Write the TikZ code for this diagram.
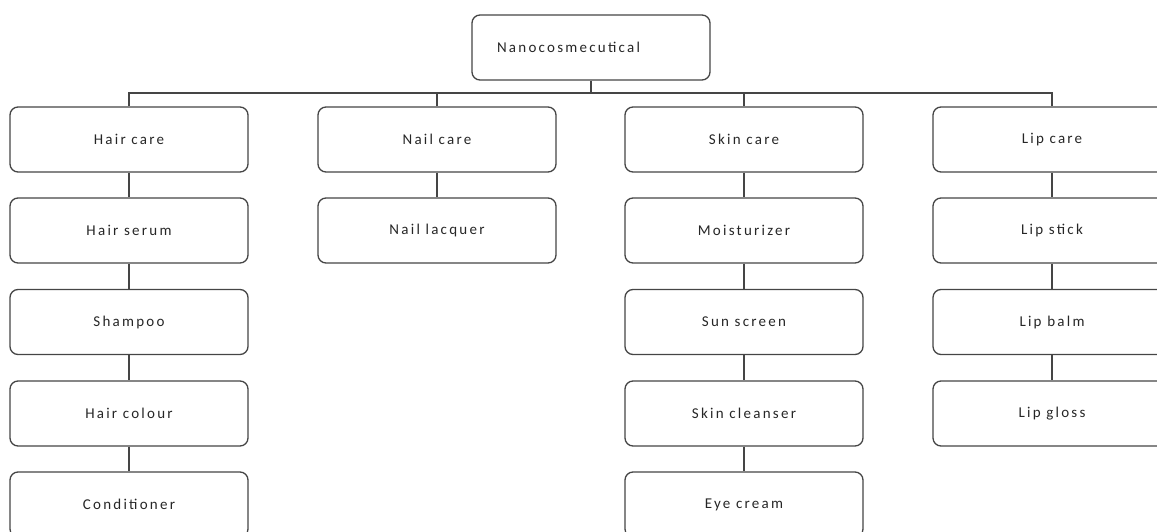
\documentclass[tikz,border=0pt]{standalone}
\usepackage{fontspec}
\newfontfamily\boxfont[LetterSpace=15]{Carlito}
\definecolor{linegray}{HTML}{454545}
\definecolor{textgray}{HTML}{262626}

\tikzset{
  careboxstyle/.style={draw=linegray, line width=1.3pt, rounded corners=8pt,
    minimum width=238pt, minimum height=65pt, inner sep=0pt,
    font=\boxfont\fontsize{15}{17}\selectfont, text=textgray},
  linkstyle/.style={draw=linegray, line width=1.3pt}
}

\begin{document}
\begin{tikzpicture}[x=1pt,y=-1pt]
          \clip (0,0) rectangle (1157,532);
          \useasboundingbox (0,0) rectangle (1157,532);

          % top of the tree
          \node[careboxstyle, text width=188pt, align=left, inner xsep=25pt] (root) at (591,47.5) {Nanocosmecutical};
          \coordinate (bar) at (591,93);

          % first row
          \node[careboxstyle] (hair) at (129,139.5) {Hair care};
          \node[careboxstyle] (nail) at (437,139.5) {Nail care};
          \node[careboxstyle] (skin) at (744,139.5) {Skin care};
          \node[careboxstyle] (lip) at (1052,139.5) {Lip care};

          % hair column
          \node[careboxstyle] (hserum) at (129,230.5) {Hair serum};
          \node[careboxstyle] (shampoo) at (129,322) {Shampoo};
          \node[careboxstyle] (hcolour) at (129,413.5) {Hair colour};
          \node[careboxstyle] (cond) at (129,504.5) {Conditioner};

          % nail column
          \node[careboxstyle] (lacquer) at (437,230.5) {Nail lacquer};

          % skin column
          \node[careboxstyle] (moist) at (744,230.5) {Moisturizer};
          \node[careboxstyle] (sunscr) at (744,322) {Sun screen};
          \node[careboxstyle] (cleans) at (744,413.5) {Skin cleanser};
          \node[careboxstyle] (eyecr) at (744,504.5) {Eye cream};

          % lip column
          \node[careboxstyle] (lstick) at (1052,230.5) {Lip stick};
          \node[careboxstyle] (lbalm) at (1052,322) {Lip balm};
          \node[careboxstyle] (lgloss) at (1052,413.5) {Lip gloss};

          % connectors
          \draw[linkstyle] (root.south) -- (bar);
          \draw[linkstyle] (hair.north) -- (hair.north |- bar) -- (lip.north |- bar) -- (lip.north);
          \draw[linkstyle] (nail.north) -- (nail.north |- bar);
          \draw[linkstyle] (skin.north) -- (skin.north |- bar);

          \draw[linkstyle] (hair) -- (hserum);
          \draw[linkstyle] (hserum) -- (shampoo);
          \draw[linkstyle] (shampoo) -- (hcolour);
          \draw[linkstyle] (hcolour) -- (cond);

          \draw[linkstyle] (nail) -- (lacquer);

          \draw[linkstyle] (skin) -- (moist);
          \draw[linkstyle] (moist) -- (sunscr);
          \draw[linkstyle] (sunscr) -- (cleans);
          \draw[linkstyle] (cleans) -- (eyecr);

          \draw[linkstyle] (lip) -- (lstick);
          \draw[linkstyle] (lstick) -- (lbalm);
          \draw[linkstyle] (lbalm) -- (lgloss);
        \end{tikzpicture}
\end{document}
